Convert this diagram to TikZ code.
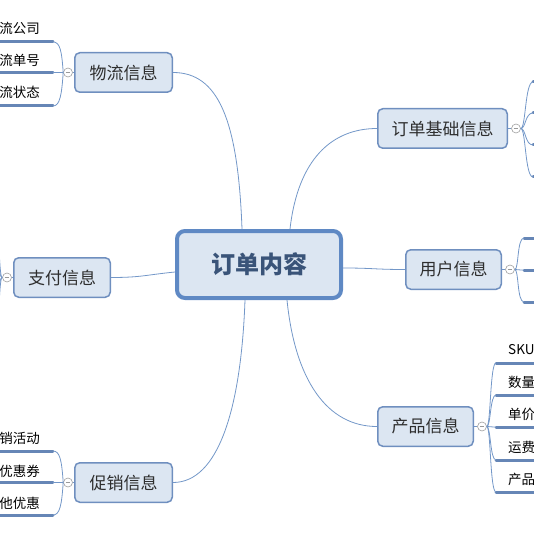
\documentclass[tikz,border=0pt]{standalone}
\usepackage{fontspec}
\newfontfamily\cjk{Noto Sans CJK SC}
\definecolor{boxfill}{HTML}{DCE6F2}
\definecolor{boxline}{HTML}{6F8FBF}
\definecolor{mainline}{HTML}{5F89C4}
\definecolor{conn}{HTML}{7397C8}
\definecolor{leafline}{HTML}{6686B6}
\definecolor{maintext}{HTML}{3A5479}
\definecolor{btext}{HTML}{2E2E2E}
\tikzset{
  mainbox/.style={draw=mainline, line width=4pt, fill=boxfill, rounded corners=8pt,
    minimum width=164pt, minimum height=67pt, inner sep=0pt,
    font=\cjk\bfseries\fontsize{24}{24}\selectfont, text=maintext},
  branch/.style={draw=boxline, line width=1.5pt, fill=boxfill, rounded corners=5pt,
    minimum height=39.5pt, inner sep=0pt, font=\cjk\fontsize{17}{17}\selectfont, text=btext},
  fold/.style={circle, draw=gray!75, fill=white, line width=0.6pt, minimum size=9pt, inner sep=0pt,
    path picture={\draw[gray!80, line width=0.6pt] ([xshift=-2.3pt]path picture bounding box.center) -- ([xshift=2.3pt]path picture bounding box.center);}},
  conn/.style={draw=conn, line width=0.8pt},
  uline/.style={draw=leafline, line width=3pt, line cap=round},
  leaf/.style={inner sep=0pt, font=\cjk\fontsize{13.5}{13.5}\selectfont, text=black},
}
\begin{document}
\begin{tikzpicture}[x=1pt,y=-1pt]
\useasboundingbox (0,0) rectangle (534,534);
\clip (0,0) rectangle (534,534);

% central
\node[mainbox] (main) at (259,264.5) {订单内容};

% branches
\node[branch, minimum width=97.5pt] (wl) at (123.5,72.5) {物流信息};
\node[branch, minimum width=129.5pt] (jc) at (442.5,128.5) {订单基础信息};
\node[branch, minimum width=96.5pt] (zf) at (62,277.5) {支付信息};
\node[branch, minimum width=95.5pt] (yh) at (453.5,269.5) {用户信息};
\node[branch, minimum width=95.5pt] (cp) at (425.5,426.5) {产品信息};
\node[branch, minimum width=97.5pt] (cx) at (123.5,482.5) {促销信息};

% connectors from central node
\coordinate (m1) at (242,229);
\coordinate (m2) at (290,229);
\coordinate (m3) at (175,272);
\coordinate (m4) at (343,268);
\coordinate (m5) at (245,300);
\coordinate (m6) at (287,300);
\draw[conn] (m1) .. controls +(-4,-110) and +(45,0) .. (wl.east);
\draw[conn] (m2) .. controls +(8,-70) and +(-45,0) .. (jc.west);
\draw[conn] (m3) .. controls +(-30,3) and +(30,0) .. (zf.east);
\draw[conn] (m4) .. controls +(30,0) and +(-30,0) .. (yh.west);
\draw[conn] (m5) .. controls +(-4,110) and +(45,0) .. (cx.east);
\draw[conn] (m6) .. controls +(8,80) and +(-50,0) .. (cp.west);

% fold circles
\node[fold] (fwl) at (68,72.5) {};
\node[fold] (fjc) at (516,128.5) {};
\node[fold] (fzf) at (7,277.5) {};
\node[fold] (fyh) at (510,269.5) {};
\node[fold] (fcp) at (482,426.5) {};
\node[fold] (fcx) at (68,482.5) {};
\draw[conn] (wl.west) -- (fwl);
\draw[conn] (jc.east) -- (fjc);
\draw[conn] (zf.west) -- (fzf);
\draw[conn] (yh.east) -- (fyh);
\draw[conn] (cp.east) -- (fcp);
\draw[conn] (cx.west) -- (fcx);

% ---- 物流信息 leaves
\node[leaf, anchor=east] (wl1) at (40,28) {流公司};
\node[leaf, anchor=east] (wl2) at (40,60) {流单号};
\node[leaf, anchor=east] (wl3) at (40,92) {流状态};
\coordinate (wl1e) at (53,42);
\coordinate (wl2e) at (53,72.5);
\coordinate (wl3e) at (53,106);
\draw[uline] (-10,42) -- (wl1e);
\draw[uline] (-10,72.5) -- (wl2e);
\draw[uline] (-10,106) -- (wl3e);
\draw[conn] (fwl.west) .. controls +(-1.5,-22) and +(7,0) .. (wl1e);
\draw[conn] (fwl.west) -- (wl2e);
\draw[conn] (fwl.west) .. controls +(-1.5,22) and +(7,0) .. (wl3e);

% ---- 促销信息 leaves
\node[leaf, anchor=east] (cx1) at (40,438) {销活动};
\node[leaf, anchor=east] (cx2) at (40,471) {优惠券};
\node[leaf, anchor=east] (cx3) at (40,503) {他优惠};
\coordinate (cx1e) at (53,451);
\coordinate (cx2e) at (53,482.5);
\coordinate (cx3e) at (53,515);
\draw[uline] (-10,451) -- (cx1e);
\draw[uline] (-10,482.5) -- (cx2e);
\draw[uline] (-10,515) -- (cx3e);
\draw[conn] (fcx.west) .. controls +(-1.5,-22) and +(7,0) .. (cx1e);
\draw[conn] (fcx.west) -- (cx2e);
\draw[conn] (fcx.west) .. controls +(-1.5,22) and +(7,0) .. (cx3e);

% ---- 订单基础信息 leaves (off page)
\foreach \y [count=\i] in {82,113,145,177}{
  \coordinate (jc\i) at (533,\y);
  \draw[uline] (jc\i) -- (560,\y);
  \draw[conn] (fjc.east) .. controls +(5,0) and (525,\y) .. (jc\i);
}

% ---- 用户信息 leaves (off page)
\foreach \y [count=\i] in {238,270,302}{
  \coordinate (yh\i) at (524,\y);
  \draw[uline] (yh\i) -- (560,\y);
  \draw[conn] (fyh.east) .. controls +(4,0) and (517,\y) .. (yh\i);
}

% ---- 支付信息 leaves (off page)
\foreach \y [count=\i] in {208,255,300,347}{
  \coordinate (zf\i) at (-10,\y);
  \draw[conn] (fzf.west) .. controls +(-4,0) and (0.5,\y) .. (zf\i);
}

% ---- 产品信息 leaves
\foreach \y/\t [count=\i] in {363/SKU,395/数量,427/单价,460/运费,492/产品}{
  \coordinate (cp\i) at (496,\y);
  \draw[uline] (cp\i) -- (560,\y);
  \draw[conn] (fcp.east) .. controls +(4,0) and (490,\y) .. (cp\i);
  \node[leaf, anchor=west] (cpt\i) at (508,\y-13) {\t};
}
\end{tikzpicture}
\end{document}
